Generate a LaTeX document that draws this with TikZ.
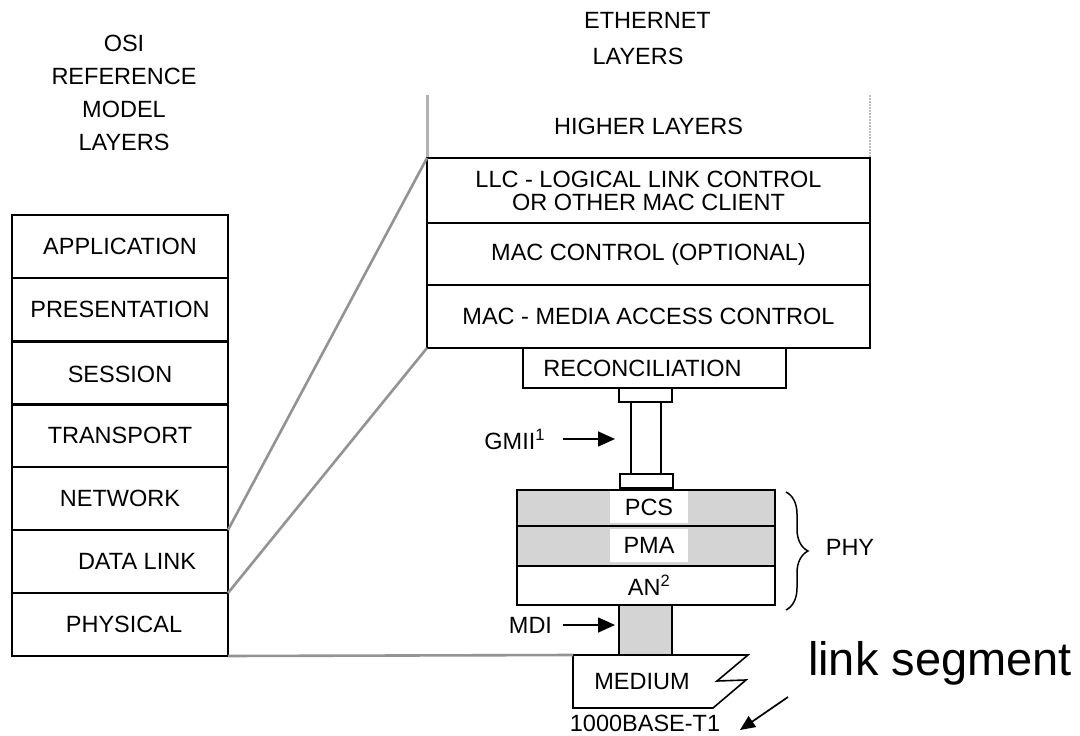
\documentclass[tikz,border=0pt]{standalone}
\usepackage{fontspec}
\setmainfont{Liberation Sans}
\usetikzlibrary{arrows.meta,decorations.pathreplacing}
\begin{document}
\begin{tikzpicture}[x=1pt,y=-1pt,
  every node/.style={font=\fontsize{23.5}{27}\selectfont, inner sep=0pt, outer sep=0pt},
  box/.style={draw, line width=1.7pt},
  osibox/.style={box, minimum width=216pt, minimum height=63pt},
  ethbox/.style={box, minimum width=443pt},
  shaded/.style={fill=black!17},
  tag/.style={fill=white, minimum width=78pt},
  mapline/.style={draw=gray!85, line width=2.6pt},
  ptr/.style={-{Triangle[length=17pt,width=15pt]}, line width=1.7pt},
]
\useasboundingbox (0,0) rectangle (1080,736);

% headings
\node[align=center, font=\fontsize{23.5}{33}\selectfont] (osihead) at (124,93) {OSI\\REFERENCE\\MODEL\\LAYERS};
\node (ethA) at (647.5,20) {ETHERNET};
\node (ethB) at (638,56) {LAYERS};

% OSI reference model stack
\node[osibox] (app)   at (120,246.5) {APPLICATION};
\node[osibox] (pres)  at (120,309.5) {PRESENTATION};
\node[osibox] (sess)  at (120,374) {SESSION};
\node[osibox] (trans) at (120,435.5) {TRANSPORT};
\node[osibox] (net)   at (120,498.5) {NETWORK};
\node[osibox] (dl)    at (120,561.5) {\hspace*{34pt}DATA LINK};
\node[osibox] (phys)  at (120,624.5) {\hspace*{8pt}PHYSICAL};

% Ethernet layers
\node[minimum width=443pt, minimum height=63pt] (hl) at (648.5,126.5) {HIGHER LAYERS};
\draw[gray!60, line width=3pt] (hl.north west) -- (hl.south west);
\draw[gray!50, line width=1.3pt, dash pattern=on 2pt off 1pt] (hl.north east) -- (hl.south east);
\node[ethbox, minimum height=65pt, align=center, font=\fontsize{23.5}{23}\selectfont] (llc) at (648.5,190.5) {LLC - LOGICAL LINK CONTROL\\OR OTHER MAC CLIENT};
\node[ethbox, minimum height=62pt] (macc) at (648.5,254) {MAC CONTROL (OPTIONAL)};
\node[ethbox, minimum height=63pt] (mac) at (648.5,316.5) {MAC - MEDIA ACCESS CONTROL};

\node[box, minimum width=263pt, minimum height=40pt] (rec) at (654.5,368) {RECONCILIATION\hspace*{24pt}};

% GMII connector
\node[box, minimum width=53pt, minimum height=14pt] (capA) at (645.5,395) {};
\node[box, minimum width=30pt, minimum height=72pt] (gmii) at (646,438) {};
\node[box, minimum width=53pt, minimum height=14pt] (capB) at (646.5,481) {};

% PHY sublayers
\node[box, shaded, minimum width=258pt, minimum height=36pt] (pcs) at (646,508) {};
\node[box, shaded, minimum width=258pt, minimum height=40pt] (pma) at (646,546) {};
\node[box, minimum width=258pt, minimum height=39pt] (an) at (646,585.5) {\hspace*{6pt}AN\textsuperscript{2}};
\node[tag, minimum height=32pt] (pcst) at (649,507) {PCS};
\node[tag, minimum height=33pt] (pmat) at (649,545.5) {PMA};

% MDI
\node[box, shaded, minimum width=53pt, minimum height=50pt] (mdi) at (645.5,630) {};

% interface labels
\node[anchor=east] (gmiil) at (545,439) {GMII\textsuperscript{1}};
\draw[ptr, shorten <=18pt, shorten >=16pt] (gmiil.east) -- (gmiil.east -| gmii.west);
\node[anchor=east] (mdil) at (552,625) {MDI};
\draw[ptr, shorten <=11pt, shorten >=4pt] (mdil.east) -- (mdil.east -| mdi.west);

% medium
\coordinate (medA) at (573,655);
\draw[line width=1.6pt, line join=miter] (medA) -- (748,655) -- (717,681) -- (746,680) -- (713,708) -- (573,708) -- cycle;
\node (med) at (642,682) {MEDIUM};
\node (base) at (645,723) {1000BASE-T1};

% layer mapping lines
\draw[mapline] (net.south east) -- (llc.north west);
\draw[mapline] (dl.south east) -- (mac.south west);
\draw[mapline] (phys.south east) -- (medA);

% PHY brace
\coordinate (brA) at (786,492);
\coordinate (brB) at (786,610);
\draw[line width=1.5pt, decorate, decoration={brace, amplitude=22pt}] (brA) -- (brB);
\node (phy) at (850,547) {PHY};

% link segment note
\node[anchor=base west, font=\fontsize{47}{50}\selectfont] (link) at (808,675) {link segment};
\coordinate (lsA) at (788,697);
\coordinate (lsB) at (740,730);
\draw[-{Triangle[length=15pt,width=13pt]}, line width=1.7pt] (lsA) -- (lsB);
\end{tikzpicture}
\end{document}
